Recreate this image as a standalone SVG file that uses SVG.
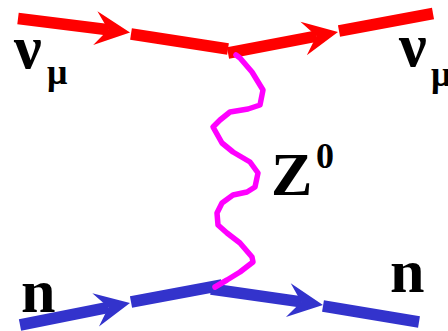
<svg xmlns="http://www.w3.org/2000/svg" width="448" height="331" viewBox="0 0 448 331">
<style>
.red{stroke:#FF0000;stroke-width:11.5;fill:none;stroke-linecap:butt}
.blue{stroke:#3333CC;stroke-width:11.5;fill:none;stroke-linecap:butt}
.photon{stroke:#FF00FF;stroke-width:5.5;fill:none;stroke-linejoin:round;stroke-linecap:round}
text{font-family:"Liberation Serif","Times New Roman",serif;font-weight:bold;fill:#000}
.big{font-size:62px}
.sub{font-size:36px}
</style>
<defs>
<marker id="arrRed" markerUnits="userSpaceOnUse" viewBox="-14 -18 37 36" refX="0" refY="0" markerWidth="37" markerHeight="36" orient="auto" overflow="visible">
<path d="M22,0 L-13,-17 L0,0 L-13,17 Z" fill="#FF0000"/>
</marker>
<marker id="arrBlue" markerUnits="userSpaceOnUse" viewBox="-14 -18 37 36" refX="0" refY="0" markerWidth="37" markerHeight="36" orient="auto" overflow="visible">
<path d="M22,0 L-13,-17 L0,0 L-13,17 Z" fill="#3333CC"/>
</marker>
</defs>
<g id="connectors">
<line class="red" x1="18" y1="18.5" x2="108.2" y2="29.8" marker-end="url(#arrRed)"/>
<line class="red" x1="131" y1="34" x2="228" y2="49"/>
<line class="red" x1="228" y1="53" x2="316.4" y2="36.1" marker-end="url(#arrRed)"/>
<line class="red" x1="339" y1="31" x2="433" y2="13.5"/>
<line class="blue" x1="20" y1="325" x2="108.4" y2="307.3" marker-end="url(#arrBlue)"/>
<line class="blue" x1="131" y1="302" x2="222" y2="285"/>
<line class="blue" x1="211" y1="289" x2="301.2" y2="301.9" marker-end="url(#arrBlue)"/>
<line class="blue" x1="323" y1="306" x2="419" y2="322"/>
<polyline id="Z0-boson" class="photon" points="236,55 240,58 252,72 263,90 260,105 248,109 230,112 220,120 213,127 222,143 233,152 250,162 258,173 255,187 247,192 233,195 222,203 217,213 218,225 227,233 240,243 252,257 253,262 240,272 227,280 215,287"/>
</g>
<g id="nu-in"><text class="big" x="14" y="68">ν</text><text class="sub" x="47" y="84">μ</text></g>
<g id="nu-out"><text class="big" x="399" y="66">ν</text><text class="sub" x="431" y="86">μ</text></g>
<g id="Z0"><text class="big" x="271" y="195">Z</text><text class="sub" x="316" y="168">0</text></g>
<g id="n-in"><text class="big" x="21" y="312">n</text></g>
<g id="n-out"><text class="big" x="390" y="292">n</text></g>
</svg>
